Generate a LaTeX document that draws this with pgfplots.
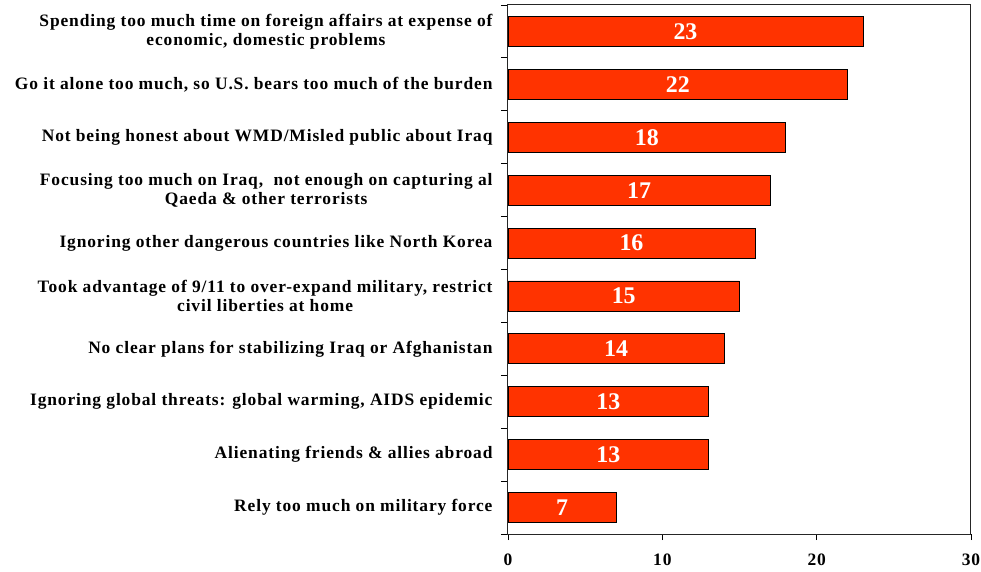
\documentclass[border=0pt]{standalone}
\usepackage{fontspec}
\setmainfont{Liberation Serif}
\newfontfamily\spacedfont[LetterSpace=5]{Liberation Serif}
\usepackage{pgfplots}
\pgfplotsset{compat=1.18}
\definecolor{barred}{HTML}{FF3300}
\begin{document}
\begin{tikzpicture}
\useasboundingbox (-508bp,-38bp) rectangle (473bp,534bp);
\begin{axis}[
  at={(0,0)}, anchor=south west,
  scale only axis, width=463bp, height=529bp,
  xbar, bar width=30bp,
  xmin=0, xmax=30, ymin=-0.5, ymax=9.5, y dir=reverse,
  xtick={0,10,20,30},
  ytick={0,...,9},
  minor ytick={-0.5,0.5,...,9.5},
  yticklabels={
    {Spending too much time on foreign affairs at expense of\\economic, domestic problems},
    {Go it alone too much, so U.S. bears too much of the burden},
    {Not being honest about WMD/Misled public about Iraq},
    {Focusing too much on Iraq,\ \ not enough on capturing al\\Qaeda \& other terrorists},
    {Ignoring other dangerous countries like North Korea},
    {Took advantage of 9/11 to over-expand military, restrict\\civil liberties at home},
    {No clear plans for stabilizing Iraq or Afghanistan},
    {Ignoring global threats: global warming, AIDS epidemic},
    {Alienating friends \& allies abroad},
    {Rely too much on military force}},
  tick pos=left, tick align=outside,
  major tick length=6bp, minor tick length=7bp,
  major y tick style={draw=none},
  tick style={black, line width=0.8bp},
  axis line style={black!85, line width=1bp},
  /pgf/number format/assume math mode=true,
  yticklabel style={align=center, font=\spacedfont\fontsize{17.5}{19.5}\selectfont\bfseries, xshift=-6bp},
  xticklabel style={font=\spacedfont\fontsize{17.5}{19}\selectfont\bfseries, yshift=-10bp},
  nodes near coords,
  visualization depends on={rawx \as \rawx},
  every node near coord/.append style={anchor=center, text=white,
    font=\fontsize{24}{24}\selectfont\bfseries,
    shift={(axis direction cs:-\rawx/2,0)}},
]
\addplot[fill=barred, draw=black, line width=0.8bp] coordinates {
  (23,0) (22,1) (18,2) (17,3) (16,4) (15,5) (14,6) (13,7) (13,8) (7,9)};
\end{axis}
\end{tikzpicture}
\end{document}
